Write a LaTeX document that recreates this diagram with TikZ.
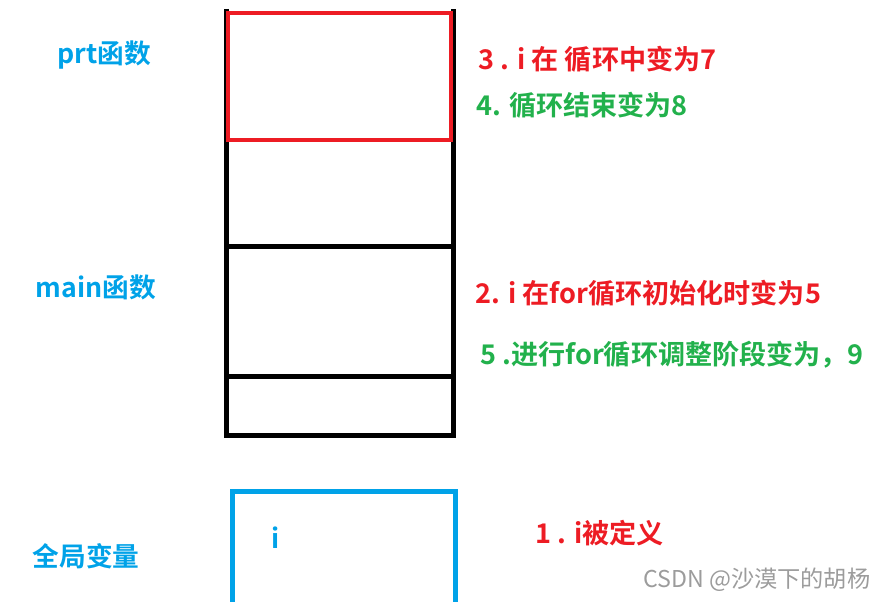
\documentclass[tikz,border=0pt]{standalone}
\usepackage{fontspec}
\setmainfont{Noto Sans CJK SC}[BoldFont={Noto Sans CJK SC Bold}]
\usepackage{tikz}
\usetikzlibrary{calc, positioning}
\definecolor{paintR}{HTML}{ED1C24}
\definecolor{paintG}{HTML}{22B14C}
\definecolor{paintB}{HTML}{00A2E8}
\definecolor{markGray}{HTML}{9C9C9C}

\tikzset{
  note/.style = {anchor = west, inner sep = 0pt, font = \fontsize{27.1}{30}\selectfont\bfseries},
  rednote/.style = {note, text = paintR},
  greennote/.style = {note, text = paintG},
  segname/.style = {note, anchor = center, text = paintB, font = \fontsize{26.7}{30}\selectfont\bfseries},
  frameline/.style = {line width = 5pt, line join = miter},
}

\begin{document}
\begin{tikzpicture}[x = 1pt, y = -1pt]
  \def\stackL{226.5}
  \def\stackR{453.0}
  \def\stackTop{9.0}
  \def\stackBot{435.0}
  \def\cutA{246.0}
  \def\cutB{376.0}

  \useasboundingbox (0, 0) rectangle (889, 602);
  \clip (0, 0) rectangle (889, 602);

  % ------------------------
  % stack frames
  % ------------------------

  % corners of the stack
  \coordinate (S1) at (\stackL, \stackTop);
  \coordinate (S2) at (\stackR, \stackTop);
  \coordinate (S3) at (\stackR, \stackBot);
  \coordinate (S4) at (\stackL, \stackBot);

  \draw[frameline] (S1) -- (S4) -- (S3) -- (S2);
  \draw[frameline] (\stackL, \cutA) -- (\stackR, \cutA);
  \draw[frameline] (\stackL, \cutB) -- (\stackR, \cutB);

  % frame of prt, on top of the stack
  \draw[paintR, line width = 4pt] (228.0, 13.0) rectangle (451.0, 140.0);

  % ------------------------
  % global area
  % ------------------------
  \draw[paintB, line width = 5pt] (232.5, 491.5) rectangle (455.5, 620.0);
  \node[segname] (ivar) at (276, 538) {i};

  % ------------------------
  % names on the left
  % ------------------------
  \node[segname] (prt) at (104.5, 55) {prt函数};
  \node[segname] (main) at (96.0, 287) {main函数};
  \node[segname] (glob) at (86.0, 556) {全局变量};

  % ------------------------
  % steps on the right
  % ------------------------
  \node[rednote] (step3) at (478, 59) {3 . i 在 循环中变为7};
  \node[greennote] (step4) at (476, 105) {4. 循环结束变为8};
  \node[rednote] (step2) at (475, 293) {2. i 在for循环初始化时变为5};
  \node[greennote] (step5) at (480, 355) {5 .进行for循环调整阶段变为，9};
  \node[rednote] (step1) at (535, 533) {1 . i被定义};

  \node[anchor = west, inner sep = 0pt, font = \fontsize{23.2}{26}\selectfont, text = markGray] (mark) at (643, 580) {CSDN @沙漠下的胡杨};
\end{tikzpicture}
\end{document}
